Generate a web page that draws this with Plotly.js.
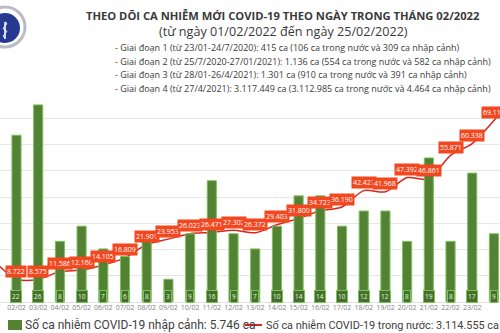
<!DOCTYPE html>
<html><head><meta charset="utf-8">
<script src="https://cdn.plot.ly/plotly-3.0.1.min.js"></script>
<style>html,body{margin:0;padding:0;background:#fff}#c{width:500px;height:333px}</style>
</head><body><div id="c"></div>
<script>
var dates = ['01/02','02/02','03/02','04/02','05/02','06/02','07/02','08/02','09/02','10/02','11/02','12/02','13/02','14/02','15/02','16/02','17/02','18/02','19/02','20/02','21/02','22/02','23/02','24/02','25/02'];
var domestic = [15291,8722,8575,11586,12160,14105,16809,21901,23953,26023,26471,27302,26372,29403,31800,34723,36190,42427,41968,47392,46861,55871,60338,69119,79155];
var imported = [12,22,26,8,10,7,6,8,3,9,16,9,7,10,14,14,10,12,12,8,19,8,17,9,10];
var titleLine1 = 'THEO DÕI CA NHIỄM MỚI COVID-19 THEO NGÀY TRONG THÁNG 02/2022';
var titleLine2 = '(từ ngày 01/02/2022 đến ngày 25/02/2022)';
var bullets = [
 '- Giai đoạn 1 (từ 23/01-24/7/2020): 415 ca (106 ca trong nước và 309 ca nhập cảnh)',
 '- Giai đoạn 2 (từ 25/7/2020-27/01/2021): 1.136 ca (554 ca trong nước và 582 ca nhập cảnh)',
 '- Giai đoạn 3 (từ 28/01-26/4/2021): 1.301 ca (910 ca trong nước và 391 ca nhập cảnh)',
 '- Giai đoạn 4 (từ 27/4/2021): 3.117.449 ca (3.112.985 ca trong nước và 4.464 ca nhập cảnh)'
];
var legendImported = 'Số ca nhiễm COVID-19 nhập cảnh: 5.746 ca';
var legendDomestic = 'Số ca nhiễm COVID-19 trong nước: 3.114.555 ca';

function fmt(v){return String(v).replace(/\B(?=(\d{3})+(?!\d))/g,'.');}
var PT=92, PB=302, PH=PB-PT;
function P(py){return (PB-py)/PH;}
var xs = dates.map(function(d,i){return i;});

var traces = [
 {type:'bar', x:xs, y:imported, yaxis:'y2', marker:{color:'#548235', line:{color:'#7cc05a', width:1}}, width:0.42, hoverinfo:'skip'},
 {type:'scatter', mode:'lines', x:xs, y:domestic, yaxis:'y', line:{color:'#d9251c', width:1.5, shape:'spline', smoothing:0.8}, hoverinfo:'skip'}
];

var ann = [];
ann.push({xref:'paper', yref:'paper', x:0.566, y:P(16), text:'<b>'+titleLine1+'</b>', showarrow:false, font:{family:'Open Sans', size:11.2, color:'#3a3a3a'}, xanchor:'center', yanchor:'middle'});
ann.push({xref:'paper', yref:'paper', x:0.566, y:P(32), text:titleLine2, showarrow:false, font:{family:'Open Sans', size:12.6, color:'#3a3a3a'}, xanchor:'center', yanchor:'middle'});
bullets.forEach(function(b,k){
 ann.push({xref:'paper', yref:'paper', x:0.226, y:P(47.5+k*13.7), text:b, showarrow:false, font:{family:'Open Sans', size:9, color:'#3a3a3a'}, xanchor:'left', yanchor:'middle'});
});
xs.forEach(function(x,i){
 ann.push({x:x, y:domestic[i], xref:'x', yref:'y', text:fmt(domestic[i]), showarrow:false, yshift:8, yanchor:'middle', font:{family:'Open Sans', size:7, color:'#ffffff'}, bgcolor:'#f2471f', borderpad:1});
 ann.push({x:x, y:0, xref:'x', yref:'y2', text:String(imported[i]), showarrow:false, yshift:6, yanchor:'middle', font:{family:'Open Sans', size:6.5, color:'#e8f2e0'}, bgcolor:'#44702a', bordercolor:'#7cc05a', borderwidth:1, borderpad:1});
});
// manual legend
ann.push({xref:'paper', yref:'paper', x:23/500, y:P(325), text:legendImported, showarrow:false, xanchor:'left', yanchor:'middle', font:{family:'Roboto', size:12, color:'#404040'}});
ann.push({xref:'paper', yref:'paper', x:264/500, y:P(325), text:legendDomestic, showarrow:false, xanchor:'left', yanchor:'middle', font:{family:'Roboto', size:10.9, color:'#404040'}});

var shapes = [
 {type:'rect', xref:'paper', yref:'paper', x0:8/500, x1:22/500, y0:P(330), y1:P(320), fillcolor:'#548235', line:{width:0}},
 {type:'line', xref:'paper', yref:'paper', x0:245/500, x1:262/500, y0:P(325), y1:P(325), line:{color:'#d9251c', width:2}},
 // logo
 {type:'circle', xref:'paper', yref:'paper', xsizemode:'pixel', ysizemode:'pixel', xanchor:5/500, yanchor:P(27), x0:-20, x1:20, y0:-20, y1:20, fillcolor:'#ffffff', line:{color:'#b8bcc8', width:3}},
 {type:'circle', xref:'paper', yref:'paper', xsizemode:'pixel', ysizemode:'pixel', xanchor:5/500, yanchor:P(28), x0:-15, x1:15, y0:-15, y1:15, fillcolor:'#26388f', line:{width:0}},
 {type:'path', xref:'paper', yref:'paper', xsizemode:'pixel', ysizemode:'pixel', xanchor:5/500, yanchor:P(28), path:'M -12,8 A 15 15 0 0 1 12,8 Z', fillcolor:'#e0262b', line:{width:0}},
 {type:'line', xref:'paper', yref:'paper', xsizemode:'pixel', ysizemode:'pixel', xanchor:5/500, yanchor:P(28), x0:0, x1:0, y0:-11, y1:6, line:{color:'#ffffff', width:1.5}},
 {type:'path', xref:'paper', yref:'paper', xsizemode:'pixel', ysizemode:'pixel', xanchor:5/500, yanchor:P(28), path:'M 0,6 C 6,4 -6,0 0,-2 C 6,-4 -6,-7 0,-10', fillcolor:'rgba(0,0,0,0)', line:{color:'#ffffff', width:1}}
];

var layout = {
 width:500, height:333,
 margin:{l:0, r:0, t:PT, b:333-PB, pad:0},
 paper_bgcolor:'#ffffff', plot_bgcolor:'#ffffff',
 showlegend:false,
 bargap:0.6,
 xaxis:{range:[0.24,23.28], tickmode:'array', tickvals:xs, ticktext:dates, tickfont:{family:'Open Sans', size:7, color:'#7f7f7f'}, showgrid:false, zeroline:false, showline:false, ticks:''},
 yaxis:{range:[0,80000], dtick:10000, showticklabels:false, gridcolor:'#e6e6e6', gridwidth:1, zeroline:true, zerolinecolor:'#e0e0e0'},
 yaxis2:{range:[0,27.7], overlaying:'y', side:'right', showticklabels:false, showgrid:false, zeroline:false},
 annotations:ann,
 shapes:shapes
};
Plotly.newPlot('c', traces, layout, {staticPlot:true, displayModeBar:false});
</script></body></html>
